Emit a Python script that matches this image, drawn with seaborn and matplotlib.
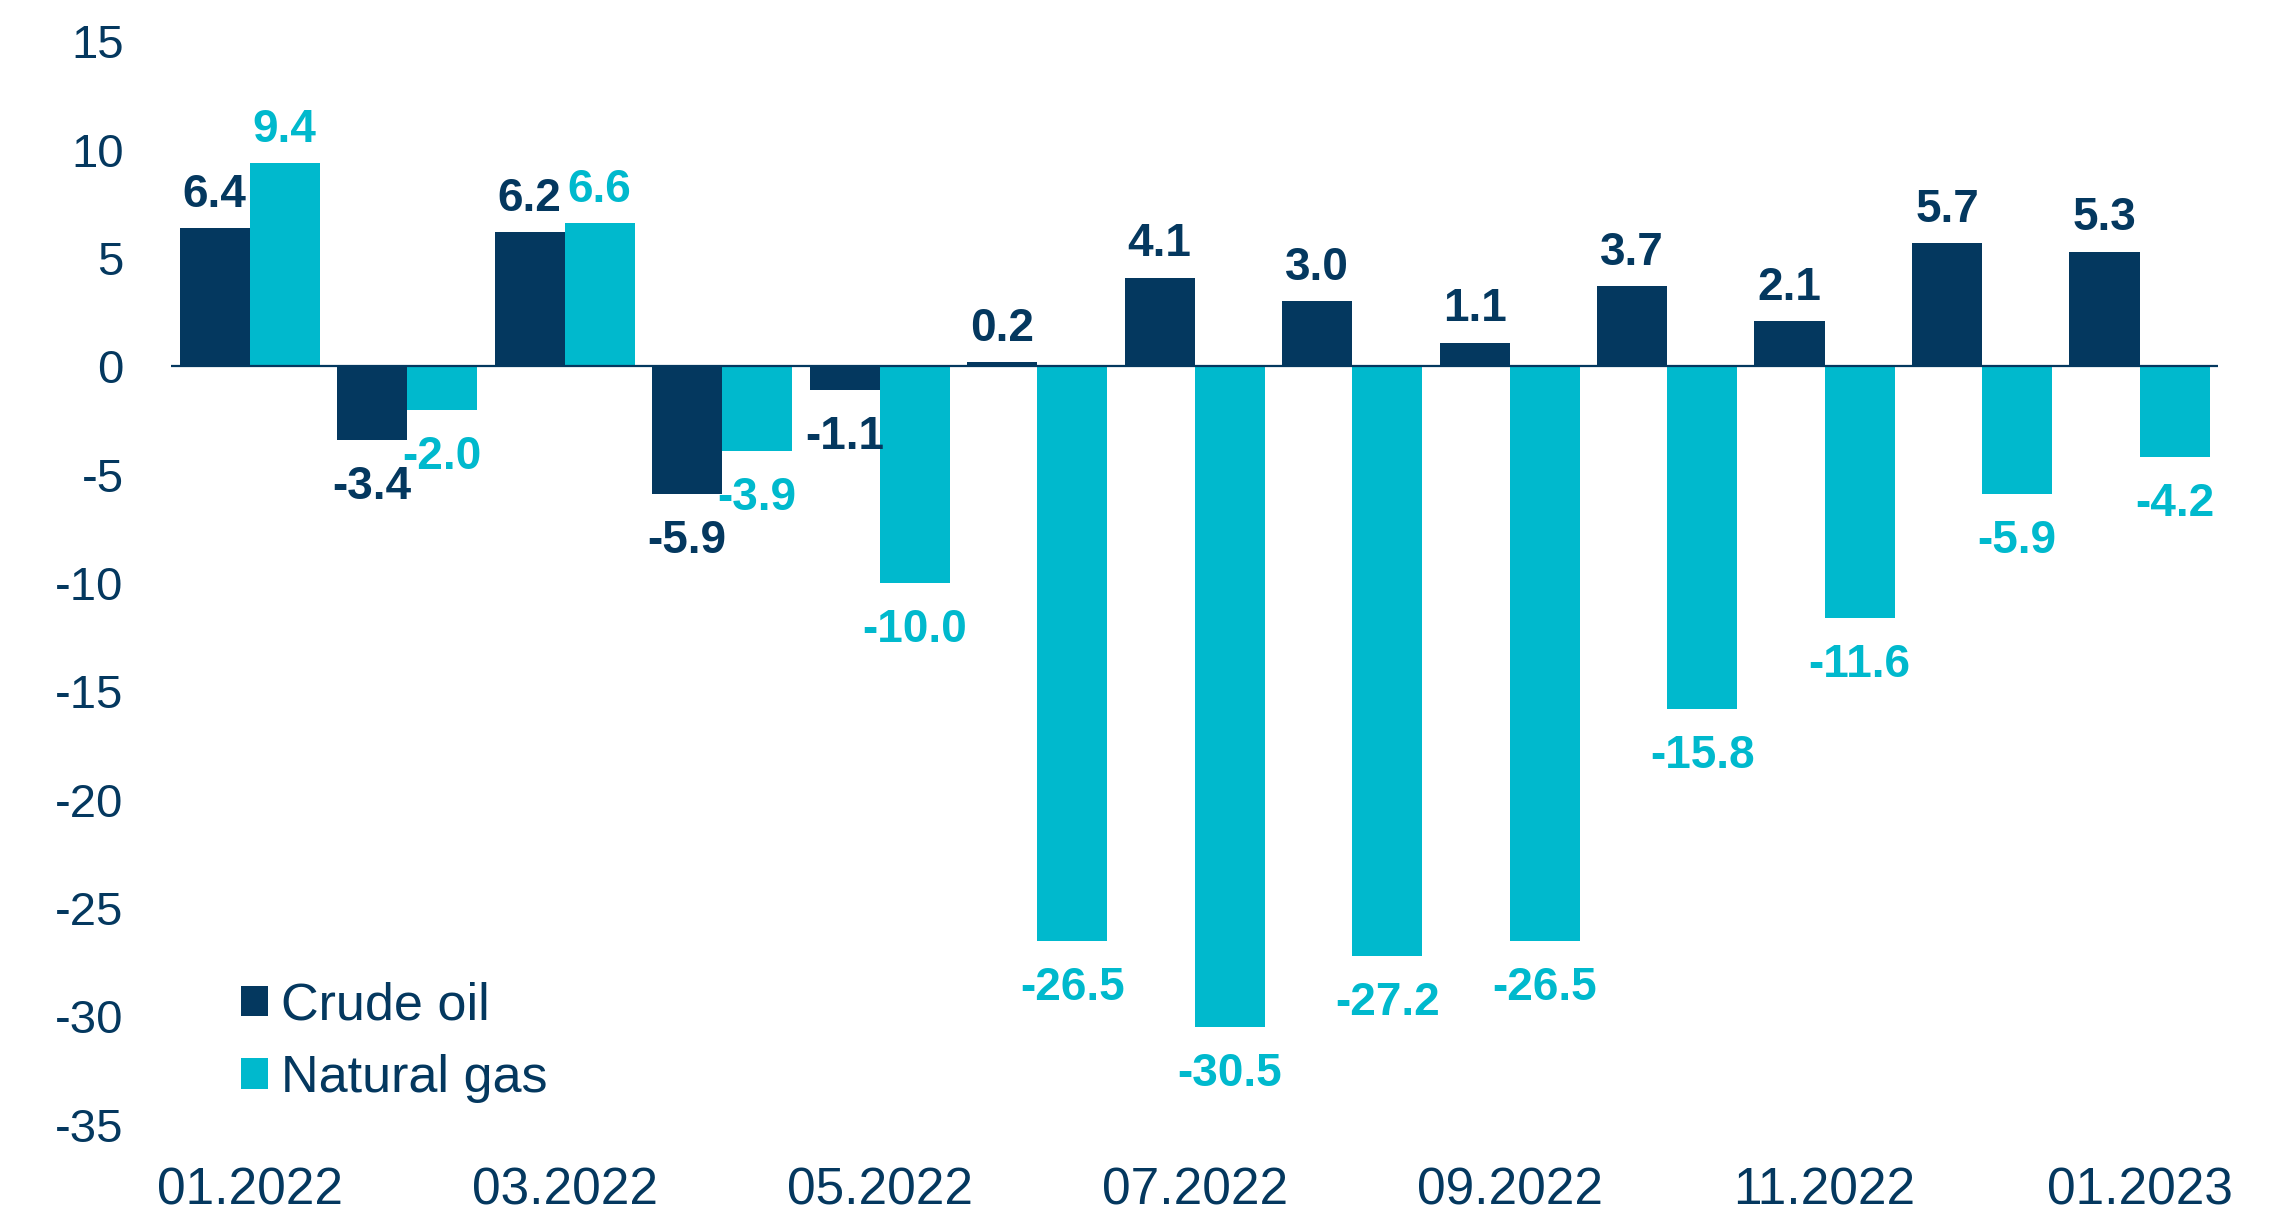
import numpy as np
import pandas as pd
import seaborn as sns
import matplotlib.pyplot as plt

# Data
months = ["01.2022", "02.2022", "03.2022", "04.2022", "05.2022", "06.2022", "07.2022",
          "08.2022", "09.2022", "10.2022", "11.2022", "12.2022", "01.2023"]
crude_oil = [6.4, -3.4, 6.2, -5.9, -1.1, 0.2, 4.1, 3.0, 1.1, 3.7, 2.1, 5.7, 5.3]
natural_gas = [9.4, -2.0, 6.6, -3.9, -10.0, -26.5, -30.5, -27.2, -26.5, -15.8, -11.6, -5.9, -4.2]
series_names = ["Crude oil", "Natural gas"]
y_ticks = [15, 10, 5, 0, -5, -10, -15, -20, -25, -30, -35]

navy = "#04385F"
cyan = "#00B9CD"

df = pd.DataFrame({
    "month": months * 2,
    "value": crude_oil + natural_gas,
    "series": [series_names[0]] * len(months) + [series_names[1]] * len(months),
})

sns.set_style("white")
plt.rcParams["font.family"] = ["Liberation Sans", "DejaVu Sans"]

fig = plt.figure(figsize=(22.94, 12.16), dpi=100)
ax = fig.add_axes([0.0745, 0.075, 0.8925, 0.891])

sns.barplot(
    data=df, x="month", y="value", hue="series",
    palette=[navy, cyan], width=0.89, saturation=1, linewidth=0,
    order=months, hue_order=series_names, ax=ax,
)

# value labels: positive above, negative below (a bit more room below)
for cont, col, vals in zip(ax.containers, [navy, cyan], [crude_oil, natural_gas]):
    pos = [f"{v:.1f}" if v >= 0 else "" for v in vals]
    neg = [f"{v:.1f}" if v < 0 else "" for v in vals]
    ax.bar_label(cont, labels=pos, padding=8, color=col, fontsize=33, fontweight="bold")
    ax.bar_label(cont, labels=neg, padding=18, color=col, fontsize=33, fontweight="bold")

ax.axhline(0, color=navy, lw=1.6, zorder=1)

ax.set_ylim(-35, 15)
ax.set_xlim(-0.5, len(months) - 0.5)
ax.set_yticks(y_ticks)
ax.set_yticklabels([str(t) for t in y_ticks])
ax.set_xticks(range(0, len(months), 2))
ax.set_xticklabels(months[::2])
ax.tick_params(axis="y", length=0, pad=34, labelsize=34, labelcolor=navy)
ax.tick_params(axis="x", length=0, pad=30, labelsize=37, labelcolor=navy)
ax.set_xlabel("")
ax.set_ylabel("")
sns.despine(ax=ax, left=True, bottom=True)

leg = ax.legend(
    loc="lower left", bbox_to_anchor=(0.034, 0.02), frameon=False,
    fontsize=37.5, handlelength=0.52, handleheight=0.52, handletextpad=0.25,
    labelspacing=0.45, borderaxespad=0, borderpad=0,
)
for t in leg.get_texts():
    t.set_color(navy)

fig.savefig("out.png", dpi=100)
